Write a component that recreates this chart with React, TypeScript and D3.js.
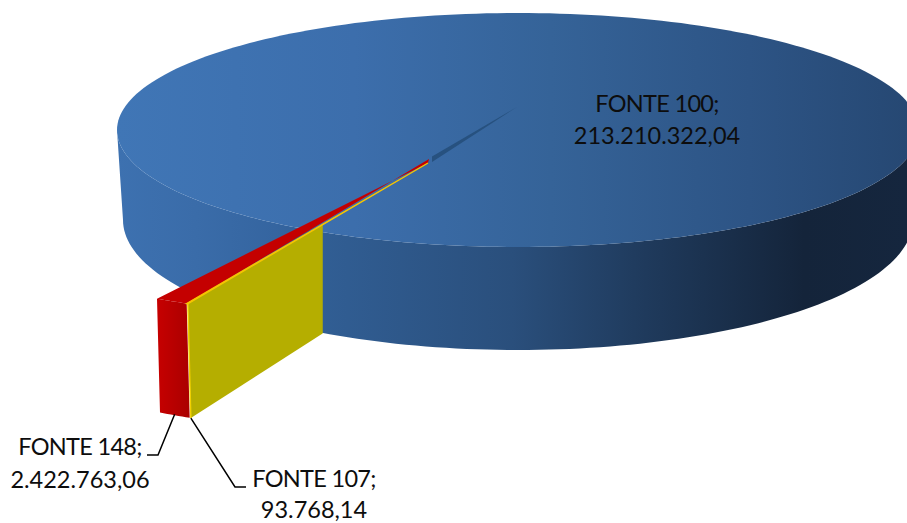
import React from "react";
import * as d3 from "d3";

const categories = ["FONTE 100", "FONTE 107", "FONTE 148"];
const valueLabels = ["213.210.322,04", "93.768,14", "2.422.763,06"];
const values = [213210322.04, 93768.14, 2422763.06];

const W = 907, H = 523;
const deg = Math.PI / 180;
const cutAngle = 209.3 * deg; // where the blue slice ends
const share = (values[1] + values[2]) / d3.sum(values);
const start = cutAngle + share * 2 * Math.PI;

const pie = d3.pie<number>().sort(null).startAngle(start).endAngle(start + 2 * Math.PI);
const arcs = pie(values);

const topX = d3.scaleLinear([-1, 1], [117, 919]);
const topY = d3.scaleLinear([-1, 1], [13, 247]);
const botX = d3.scaleLinear([-1, 1], [123, 913]);
const botY = d3.scaleLinear([-1, 1], [90, 350]);
type P = [number, number];
const rimTop = (t: number): P => [topX(Math.sin(t)), topY(-Math.cos(t))];
const rimBot = (t: number): P => [botX(Math.sin(t)), botY(-Math.cos(t))];

const apex: P = [517, 107];
const exApexTop: P = [428, 163];
const exApexBot: P = [431, 264];
const exTop = (t: number): P => {
  const r = rimTop(t);
  return [exApexTop[0] + 1.23 * (r[0] - apex[0]), exApexTop[1] + 1.125 * (r[1] - apex[1])];
};
const exBot = (t: number): P => {
  const r = rimTop(t);
  return [exApexBot[0] + 1.23 * (r[0] - apex[0]), exApexBot[1] + 1.232 * (r[1] - apex[1])];
};

const line = d3.line<P>();
const closed = (pts: P[]) => line(pts) + "Z";
const sweep = (a: number, b: number, n = 120) => d3.range(n + 1).map((i) => a + ((b - a) * i) / n);

const wallPts: P[] = [
  ...sweep(90 * deg, 270 * deg).map(rimBot),
  ...sweep(270 * deg, 90 * deg).map(rimTop),
];
const topPts: P[] = sweep(0, 2 * Math.PI, 240).map(rimTop);

const yellow = arcs[1];
const red = arcs[2];
// d3.pie runs the three slices clockwise: blue, then yellow, then red
const yA = yellow.startAngle, yB = yellow.endAngle, rB = red.endAngle;

const slitEnd: P = [exApexTop[0] + 4, exApexTop[1] - 4];
const redApex: P = [exApexTop[0] + 1, exApexTop[1] - 4];
const redTop: P[] = [redApex, ...sweep(yB, rB, 8).map(exTop), exApexTop];
const yellowTop: P[] = [exApexTop, ...sweep(yA, yB, 2).map(exTop)];
const redWall: P[] = [...sweep(yB, rB, 8).map(exTop), ...sweep(rB, yB, 8).map(exBot)];
const yellowSide: P[] = [exApexTop, exTop(yA), exBot(yA), exApexBot];
const cutX = rimTop(cutAngle)[0] + 1;

const label1 = { x: 657, y1: 112, y2: 144 };
const label2 = { x: 80, y1: 455, y2: 488 };
const label3 = { x: 314, y1: 487, y2: 518 };

const stops = (rows: [number, string][]) =>
  rows.map(([o, c]) => <stop key={o} offset={o} stopColor={c} />);

export default function App() {
  const leadRed = exBot((yB + rB) / 2);
  const leadYellow = exBot(yA);
  const fontStyle = { fontFamily: "Lato, 'Open Sans', sans-serif", fontSize: 23.5, fill: "#0d0d0d" };
  const nameStyle = { letterSpacing: -0.7 };
  return (
    <svg width={W} height={H} style={{ position: "absolute", left: 0, top: 0, background: "#fff" }}>
      <defs>
        <linearGradient id="wall" gradientUnits="userSpaceOnUse" x1={117} x2={907} y1={0} y2={0}>
          {stops([
            [0, "#3d71b0"],
            [0.1, "#3a6ca9"],
            [0.2, "#3565a0"],
            [0.26, "#315e94"],
            [0.5, "#2a4f7c"],
            [0.67, "#1f3a5c"],
            [0.87, "#14243a"],
            [1, "#15263e"],
          ])}
        </linearGradient>
        <linearGradient id="top" gradientUnits="userSpaceOnUse" x1={117} x2={907} y1={0} y2={0}>
          {stops([
            [0, "#4076b6"],
            [0.3, "#3c6eac"],
            [0.55, "#356398"],
            [0.8, "#2d5485"],
            [1, "#264873"],
          ])}
        </linearGradient>
        <linearGradient id="redWall" gradientUnits="userSpaceOnUse" x1={155} x2={192} y1={0} y2={0}>
          {stops([
            [0, "#c80000"],
            [1, "#a80000"],
          ])}
        </linearGradient>
        <clipPath id="yellowClip">
          <rect x={0} y={0} width={cutX} height={H} />
        </clipPath>
      </defs>

      <path d={closed(wallPts)} fill="url(#wall)" />
      <path d={closed(topPts)} fill="url(#top)" />
      <path d={closed([apex, [slitEnd[0], slitEnd[1] - 2.5], [slitEnd[0], slitEnd[1] + 3]])} fill="#27517f" />

      <path d={closed(yellowSide)} fill="#b5ae00" clipPath="url(#yellowClip)" />
      <path d={closed(redWall)} fill="url(#redWall)" />
      <path d={closed(redTop)} fill="#c40000" />
      <path d={closed(yellowTop)} fill="#f6c400" stroke="#f6c400" strokeWidth={1.4} />
      <path d={line([exTop(yA), exBot(yA)])!} stroke="#f2d000" strokeWidth={1.4} fill="none" />

      <g fill="none" stroke="#000" strokeWidth={1.5}>
        <path d={line([[leadRed[0] + 0, leadRed[1] - 1], [158, label2.y1], [147, label2.y1]])!} />
        <path d={line([leadYellow, [235, label3.y1], [246, label3.y1]])!} />
      </g>

      <g style={fontStyle} textAnchor="middle">
        <text x={label1.x} y={label1.y1} style={nameStyle}>{categories[0]};</text>
        <text x={label1.x} y={label1.y2}>{valueLabels[0]}</text>
        <text x={label2.x} y={label2.y1} style={nameStyle}>{categories[2]};</text>
        <text x={label2.x} y={label2.y2}>{valueLabels[2]}</text>
        <text x={label3.x} y={label3.y1} style={nameStyle}>{categories[1]};</text>
        <text x={label3.x} y={label3.y2}>{valueLabels[1]}</text>
      </g>
    </svg>
  );
}
